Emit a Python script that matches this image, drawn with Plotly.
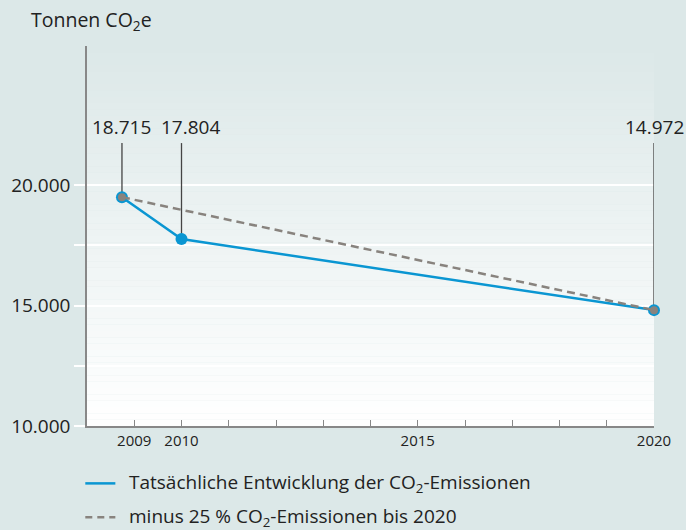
import plotly.graph_objects as go

# ---- data ----
actual_x = [2008.74, 2010, 2020]
actual_y = [19500, 17760, 14810]
value_labels = ["18.715", "17.804", "14.972"]
target_x = [2008.74, 2020]
target_y = [19500, 14810]
x_tickvals = [2009, 2010, 2015, 2020]
x_ticktext = ["2009", "2010", "2015", "2020"]
x_minor_ticks = list(range(2009, 2021))
y_tickvals = [10000, 15000, 20000]
y_ticktext = ["10.000", "15.000", "20.000"]
y_minor_ticks = [12500, 17500]
legend_names = ["Tatsächliche Entwicklung der CO<sub>2</sub>-Emissionen",
                "minus 25 % CO<sub>2</sub>-Emissionen bis 2020"]

# ---- styles ----
BG = (220, 232, 232)
BLUE = "#0a96d2"
GRAY = "#88837e"
TXT = "#222222"
FONT = "Open Sans"
LABEL_LINE_TOP = 21745
LABEL_TEXT_Y = 22400
LABEL_XSHIFT = [0, 9, 0]

fig = go.Figure()
fig.add_trace(go.Scatter(x=actual_x, y=actual_y, mode="lines+markers",
                         line=dict(color=BLUE, width=2.5),
                         marker=dict(color=BLUE, size=12), showlegend=False, cliponaxis=False))
fig.add_trace(go.Scatter(x=target_x, y=target_y, mode="lines+markers",
                         line=dict(color=GRAY, width=2.5, dash="8px,5px"),
                         marker=dict(color=GRAY, size=8), showlegend=False, cliponaxis=False))

shapes = []
# gradient plot background
N = 60
for i in range(N):
    t = (i + 0.5) / N
    c = tuple(round(255 + (b - 255) * t) for b in BG)
    shapes.append(dict(type="rect", xref="paper", yref="paper", x0=0, x1=1,
                       y0=i / N, y1=(i + 1) / N, fillcolor="rgb(%d,%d,%d)" % c,
                       line=dict(width=0), layer="below"))
annotations = []
for xv, yv, lab, xs in zip(actual_x, actual_y, value_labels, LABEL_XSHIFT):
    shapes.append(dict(type="line", xref="x", yref="y", x0=xv, x1=xv, y0=yv, y1=LABEL_LINE_TOP,
                       line=dict(color="#444444", width=1.3), layer="between"))
    annotations.append(dict(x=xv, y=LABEL_TEXT_Y, xref="x", yref="y", text=lab, showarrow=False,
                            xshift=xs, borderpad=0,
                            font=dict(size=19, color=TXT, family=FONT), xanchor="center", yanchor="middle"))

# legend drawn manually
leg_y = [-0.151, -0.240]
styles = [dict(color=BLUE, width=2.5), dict(color=GRAY, width=2.5, dash="7px,5px")]
for ly, st, name in zip(leg_y, styles, legend_names):
    shapes.append(dict(type="line", xref="paper", yref="paper", x0=-0.003, x1=0.05, y0=ly, y1=ly,
                       line=st))
    annotations.append(dict(x=0.072, y=ly, xref="paper", yref="paper", text=name, showarrow=False,
                            xanchor="left", yanchor="middle", borderpad=0,
                            font=dict(size=19, color=TXT, family=FONT)))

annotations.append(dict(x=-0.1, y=1.068, xref="paper", yref="paper", text="Tonnen CO<sub>2</sub>e",
                        showarrow=False, xanchor="left", yanchor="middle", borderpad=0,
                        font=dict(size=19.5, color=TXT, family=FONT)))

fig.update_layout(
    width=686, height=530,
    margin=dict(l=87, r=32, t=46, b=104),
    paper_bgcolor="rgb(%d,%d,%d)" % BG,
    plot_bgcolor="rgb(%d,%d,%d)" % BG,
    font=dict(family=FONT, color=TXT),
    shapes=shapes, annotations=annotations, showlegend=False,
)
fig.update_xaxes(range=[2008, 2020], tickvals=x_tickvals, ticktext=x_ticktext,
                 ticks="inside", ticklen=6, tickcolor="#888888", tickwidth=1.2,
                 minor=dict(tickvals=x_minor_ticks, ticks="inside", ticklen=6,
                            tickcolor="#888888", tickwidth=1.2, showgrid=False),
                 showline=True, linecolor="#888888", linewidth=1.5, showgrid=False, zeroline=False,
                 tickfont=dict(size=15, color=TXT, family=FONT))
fig.update_yaxes(range=[10000, 25775], tickvals=y_tickvals, ticktext=y_ticktext,
                 ticks="outside", ticklen=11, tickcolor="white", tickwidth=1.5,
                 minor=dict(tickvals=y_minor_ticks, ticks="outside", ticklen=11, tickcolor="white",
                            tickwidth=1.5, showgrid=True, gridcolor="white", gridwidth=1.5),
                 showline=True, linecolor="#888888", linewidth=1.5,
                 showgrid=True, gridcolor="white", gridwidth=1.5, zeroline=False,
                 tickfont=dict(size=19, color=TXT, family=FONT))

fig.write_html("out.html")
